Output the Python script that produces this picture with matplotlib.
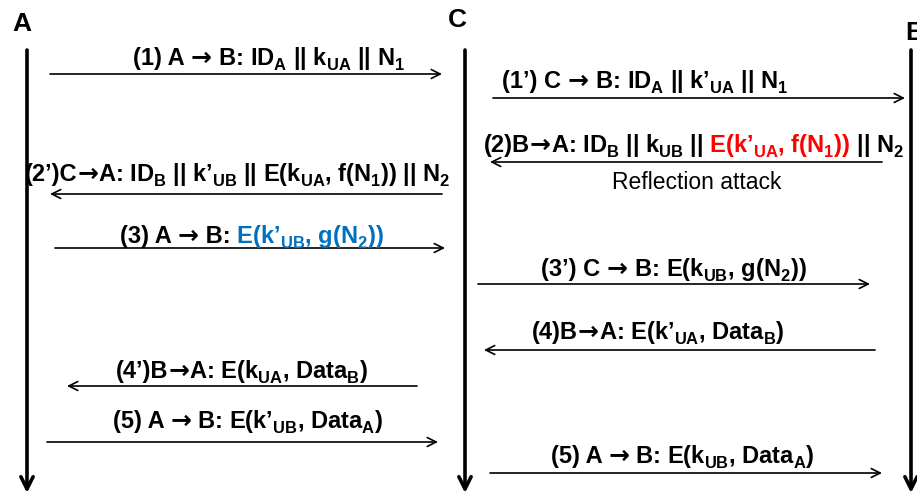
import matplotlib
matplotlib.use('Agg')
import matplotlib.pyplot as plt

plt.rcParams['font.family'] = ['Liberation Sans', 'DejaVu Sans']
plt.rcParams['mathtext.fontset'] = 'custom'
plt.rcParams['mathtext.rm'] = 'Liberation Sans:bold'
plt.rcParams['mathtext.it'] = 'Liberation Sans:bold'
plt.rcParams['mathtext.bf'] = 'Liberation Sans:bold'
plt.rcParams['mathtext.default'] = 'rm'

# subscripts sit a little lower in the original figure
try:
    from matplotlib import _mathtext
    _mathtext.FontConstantsBase.sub1 = 0.45
except Exception:
    pass

RED = '#ff0000'
BLUE = '#0070c0'
K = 'black'

# participants
actors = ['A', 'C', 'B']
actor_x = [27, 465, 911]
actor_label_xy = [(22, 24), (457, 20), (905, 33)]

# messages: label parts, label centre x, text baseline, arrow y, arrow start x, arrow end x
msg_parts = [
    [("(1) A ", K), ("→", K), (" B: ID$_{A}$ || k$_{UA}$ || N$_{1}$", K)],
    [("(1’) C ", K), ("→", K), (" B: ID$_{A}$ || k’$_{UA}$ || N$_{1}$", K)],
    [("(2)B", K), ("→", K), ("A: ID$_{B}$ || k$_{UB}$ ||", K), (" E(k’$_{UA}$, f(N$_{1}$))", RED), (" || N$_{2}$", K)],
    [("(2’)C", K), ("→", K), ("A: ID$_{B}$ || k’$_{UB}$ || E(k$_{UA}$, f(N$_{1}$)) || N$_{2}$", K)],
    [("(3) A ", K), ("→", K), (" B:", K), (" E(k’$_{UB}$, g(N$_{2}$))", BLUE)],
    [("(3’) C ", K), ("→", K), (" B: E(k$_{UB}$, g(N$_{2}$))", K)],
    [("(4)B", K), ("→", K), ("A: E(k’$_{UA}$, Data$_{B}$)", K)],
    [("(4’)B", K), ("→", K), ("A: E(k$_{UA}$, Data$_{B}$)", K)],
    [("(5) A ", K), ("→", K), (" B: E(k’$_{UB}$, Data$_{A}$)", K)],
    [("(5) A ", K), ("→", K), (" B: E(k$_{UB}$, Data$_{A}$)", K)],
]
msg_cx = [269, 645, 694, 238, 252, 674, 658, 242, 248, 683]
msg_base = [65, 88, 152, 181, 243, 276, 339, 378, 428, 463]
msg_y = [74, 98, 162, 194, 248, 284, 350, 386, 442, 473]
msg_x0 = [50, 493, 882, 442, 55, 478, 875, 417, 47, 490]
msg_x1 = [442, 905, 490, 50, 445, 870, 484, 67, 438, 882]

note_text = 'Reflection attack'
note_xy = (697, 189)

fig = plt.figure(figsize=(9.17, 4.96), dpi=100)
ax = fig.add_axes([0, 0, 1, 1])
ax.set_xlim(0, 917)
ax.set_ylim(496, 0)
ax.axis('off')

# lifelines
for name, x, (lx, ly) in zip(actors, actor_x, actor_label_xy):
    ax.annotate('', xy=(x, 493), xytext=(x, 50),
                arrowprops=dict(arrowstyle='->', lw=2.6, color='black',
                                mutation_scale=22, shrinkA=0, shrinkB=0))
    ax.text(lx, ly, name, fontsize=19, fontweight='bold',
            ha='left' if name == 'B' else 'center', va='center')

renderer = fig.canvas.get_renderer()


def draw_label(cx, y, parts, size=17):
    texts = []
    for s, c in parts:
        if s == "→":
            # bold arrow glyph, a bit heavier than the Liberation one
            t = ax.text(0, y, s, color=c, fontsize=size + 1, fontweight='bold',
                        family='DejaVu Sans', ha='left', va='baseline')
        else:
            t = ax.text(0, y, s, color=c, fontsize=size, fontweight='bold',
                        ha='left', va='baseline')
        texts.append(t)
    widths = [t.get_window_extent(renderer).width for t in texts]
    x = cx - sum(widths) / 2
    for t, w in zip(texts, widths):
        t.set_x(x)
        x += w


for parts, cx, yb, ya, x0, x1 in zip(msg_parts, msg_cx, msg_base, msg_y, msg_x0, msg_x1):
    ax.annotate('', xy=(x1, ya), xytext=(x0, ya),
                arrowprops=dict(arrowstyle='->', lw=1.2, color='black',
                                mutation_scale=16, shrinkA=0, shrinkB=0))
    draw_label(cx, yb, parts)

ax.text(note_xy[0], note_xy[1], note_text, fontsize=16.5, ha='center', va='baseline')

fig.savefig('out.png', dpi=100)
